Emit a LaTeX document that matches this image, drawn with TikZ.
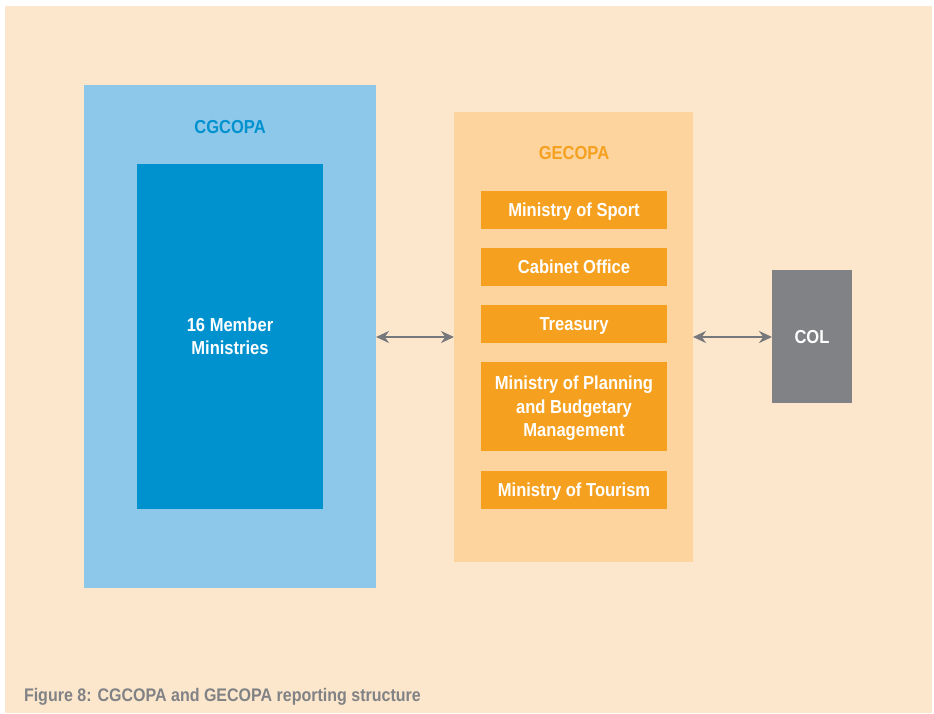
\documentclass[tikz,border=0pt]{standalone}
\usepackage{fontspec}
\usepackage{tikz}
\usetikzlibrary{arrows.meta, positioning}
\newfontfamily\condfont[FakeStretch=0.88]{Liberation Sans}
\newcommand{\boxfont}{\condfont\bfseries\fontsize{18.8}{23.5}\selectfont}
\newcommand{\capfont}{\condfont\bfseries\fontsize{18.2}{22}\selectfont}
\definecolor{bgcream}{RGB}{253, 231, 204}
\definecolor{lightblue}{RGB}{141, 199, 234}
\definecolor{darkblue}{RGB}{0, 146, 207}
\definecolor{lightorange}{RGB}{253, 212, 157}
\definecolor{orangebox}{RGB}{245, 160, 30}
\definecolor{colgray}{RGB}{128, 130, 133}
\definecolor{arrowgray}{RGB}{118, 120, 123}

\begin{document}
\begin{tikzpicture}[
    x=1pt, y=-1pt,
    panel/.style={rectangle, inner sep=0pt, outer sep=0pt, align=center, font=\boxfont},
    ministry/.style={rectangle, fill=orangebox, minimum width=186pt, minimum height=38pt, inner sep=0pt, outer sep=0pt, text depth=0pt, align=center, text=white, font=\boxfont},
    arrow/.style={{Stealth[length=13pt,width=12pt]}-{Stealth[length=13pt,width=12pt]}, line width=2.5pt, draw=arrowgray}
]
    \useasboundingbox (0,0) rectangle (934,713);
    \fill[bgcream] (5,6) rectangle (932,713);

    % left panel
    \node[panel, fill=lightblue, minimum width=292pt, minimum height=503pt] (cgcopa) at (230,336.5) {};
    \node[panel, text=darkblue] (cgcopalabel) at (230,127) {CGCOPA};
    \node[panel, fill=darkblue, text=white, minimum width=186pt, minimum height=345pt] (members) at (230,336.5) {16 Member\\Ministries};

    % middle panel
    \node[panel, fill=lightorange, minimum width=239pt, minimum height=450pt] (gecopa) at (573.5,337) {};
    \node[panel, text=orangebox] (gecopalabel) at (574,153) {GECOPA};
    \node[ministry] (sport) at (574,210) {Ministry of Sport};
    \node[ministry, below=19pt of sport] (cabinet) {Cabinet Office};
    \node[ministry, below=19pt of cabinet] (treasury) {Treasury};
    \node[ministry, below=19pt of treasury, minimum height=89pt] (planning) {Ministry of Planning\\and Budgetary\\Management};
    \node[ministry, below=20pt of planning] (tourism) {Ministry of Tourism};

    % right box
    \node[panel, fill=colgray, text=white, text depth=0pt, minimum width=80pt, minimum height=133pt] (col) at (812,336.5) {COL};

    \draw[arrow] (cgcopa.east |- 0,337) -- (gecopa.west |- 0,337);
    \draw[arrow] (gecopa.east |- 0,337) -- (col.west |- 0,337);

    \node[panel, anchor=base west, text=colgray, font=\capfont] (caption) at (24,701) {Figure 8: CGCOPA and GECOPA reporting structure};
\end{tikzpicture}
\end{document}
